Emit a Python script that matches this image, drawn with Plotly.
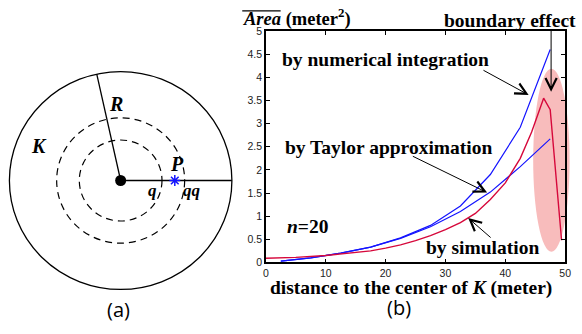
import math
import plotly.graph_objects as go

W, H = 582, 334

# ---------------- data (b) ----------------
numint_x = [2.5, 7.5, 12.5, 17.5, 22.5, 27.5, 32.5, 37.5, 42.5, 47.5]
numint_y = [0.03, 0.10, 0.20, 0.33, 0.53, 0.80, 1.22, 1.90, 2.92, 4.60]

taylor_x = [2.5, 7.5, 12.5, 17.5, 22.5, 27.5, 32.5, 37.5, 42.5, 47.5]
taylor_y = [0.03, 0.10, 0.20, 0.33, 0.52, 0.77, 1.10, 1.52, 2.07, 2.67]

sim_x = [0, 5, 10, 15, 17.5, 20, 22.5, 25, 27.5, 30, 32.5, 35, 37.5, 40, 42.5, 44.4, 46.4, 47.5, 49.4]
sim_y = [0.09, 0.11, 0.15, 0.21, 0.25, 0.31, 0.38, 0.47, 0.58, 0.71, 0.86, 1.06, 1.36, 1.72, 2.25, 2.82, 3.55, 3.30, 0.48]

x_ticks = [0, 10, 20, 30, 40, 50]
y_ticks = [0, 0.5, 1, 1.5, 2, 2.5, 3, 3.5, 4, 4.5, 5]
y_tick_labels = ["0", "0.5", "1", "1.5", "2", "2.5", "3", "3.5", "4", "4.5", "5"]

# ---------------- data (a) schematic (pixel units) ----------------
center = (119.5, 181.0)
R_big = 113.0
dashed_radii = [42.0, 65.0]
P_dist = 55.0
R_angle_deg = 102.4

def px(x):
    return x / W

def py(y):
    return 1 - y / H

SERIF = "Liberation Serif"
SANS = "Liberation Sans"
BLUE = "#1414ff"
RED = "#d6083b"

fig = go.Figure()

# main curves
fig.add_trace(go.Scatter(x=numint_x, y=numint_y, mode="lines",
                         line=dict(color=BLUE, width=1.2), xaxis="x", yaxis="y"))
fig.add_trace(go.Scatter(x=taylor_x, y=taylor_y, mode="lines",
                         line=dict(color=BLUE, width=1.2), xaxis="x", yaxis="y"))
fig.add_trace(go.Scatter(x=sim_x, y=sim_y, mode="lines",
                         line=dict(color=RED, width=1.4), xaxis="x", yaxis="y"))

# schematic traces
cx, cy = center
ang = math.radians(R_angle_deg)
fig.add_trace(go.Scatter(x=[cx, cx + R_big * math.cos(ang)], y=[cy, cy - R_big * math.sin(ang)],
                         mode="lines", line=dict(color="black", width=1.3), xaxis="x2", yaxis="y2"))
fig.add_trace(go.Scatter(x=[cx, cx + R_big], y=[cy, cy], mode="lines",
                         line=dict(color="black", width=1.3), xaxis="x2", yaxis="y2"))
fig.add_trace(go.Scatter(x=[cx], y=[cy], mode="markers",
                         marker=dict(color="black", size=11), xaxis="x2", yaxis="y2"))
fig.add_trace(go.Scatter(x=[cx + P_dist], y=[cy], mode="markers",
                         marker=dict(symbol="asterisk-open", size=9, color=BLUE,
                                     line=dict(color=BLUE, width=1.5)),
                         xaxis="x2", yaxis="y2"))

shapes = []
# pink ellipse (boundary effect)
shapes.append(dict(type="circle", xref="paper", yref="paper",
                   x0=px(538.5), x1=px(575.5), y0=py(255), y1=py(65),
                   fillcolor="rgba(246,165,165,0.75)", line=dict(width=0), layer="below"))
# overline on Area
shapes.append(dict(type="line", xref="paper", yref="paper",
                   x0=px(243), x1=px(282), y0=py(5), y1=py(5),
                   line=dict(color="black", width=1.2)))
# schematic circles
shapes.append(dict(type="circle", xref="x2", yref="y2",
                   x0=cx - R_big, x1=cx + R_big, y0=cy - R_big, y1=cy + R_big,
                   line=dict(color="black", width=1.3)))
for r in dashed_radii:
    shapes.append(dict(type="circle", xref="x2", yref="y2",
                       x0=cx - r, x1=cx + r, y0=cy - r, y1=cy + r,
                       line=dict(color="black", width=1.2, dash="7px,5px")))

ann = []
def txt(text, x, y, size=19.5, family=SERIF, xanchor="center", color="black"):
    ann.append(dict(text=text, x=px(x), y=py(y), xref="paper", yref="paper",
                    showarrow=False, xanchor=xanchor, yanchor="middle",
                    font=dict(family=family, size=size, color=color)))

txt("<b><i>Area</i> (meter<sup>2</sup>)</b>", 242, 12, xanchor="left", size=18.5)
txt("<b>boundary effect</b>", 515, 15)
txt("<b>by numerical integration</b>", 389, 55)
txt("<b>by Taylor approximation</b>", 392, 147)
txt("<b>by simulation</b>", 487, 251)
txt("<b><i>n</i>=20</b>", 309, 229)
txt("<b>distance to the center of <i>K</i> (meter)</b>", 414, 292, size=19.5)
txt("(b)", 402, 313, size=20, family="Open Sans")
txt("(a)", 117, 315, size=20, family="Open Sans")

# schematic labels
txt("<b><i>R</i></b>", 115, 102, size=20)
txt("<b><i>K</i></b>", 37, 145, size=20)
txt("<b><i>P</i></b>", 177, 164, size=20)
txt("<b><i>q</i></b>", 152, 191, size=17)
txt("<b><i>qq</i></b>", 192, 191, size=17)

def arrow(hx, hy, tx, ty):
    ann.append(dict(x=hx, y=hy, ax=tx, ay=ty, xref="x", yref="y", axref="x", ayref="y",
                    text="", showarrow=True, arrowhead=5, arrowsize=2.2, arrowwidth=1,
                    arrowcolor="black"))

arrow(47.65, 3.69, 47.65, 5.04)
arrow(43.9, 3.62, 36.1, 4.17)
arrow(36.96, 1.51, 24.3, 2.31)
arrow(33.8, 0.96, 37.8, 0.51)

axis_common = dict(showline=True, linecolor="black", linewidth=1.5, mirror="ticks",
                   ticks="inside", ticklen=4, tickwidth=1, tickcolor="black",
                   showgrid=False, zeroline=False,
                   tickfont=dict(family=SANS, size=10.5, color="#222"))

fig.update_layout(
    width=W, height=H,
    margin=dict(l=0, r=0, t=0, b=0),
    paper_bgcolor="white", plot_bgcolor="rgba(0,0,0,0)",
    showlegend=False,
    xaxis=dict(domain=[px(267), px(571)], range=[0, 50], tickvals=x_ticks, anchor="y",
               ticklabelstandoff=0, **axis_common),
    yaxis=dict(domain=[py(266), py(26)], range=[0, 5], tickvals=y_ticks, ticktext=y_tick_labels,
               anchor="x", ticklabelstandoff=0, **axis_common),
    xaxis2=dict(domain=[0, px(240)], range=[0, 240], visible=False, anchor="y2"),
    yaxis2=dict(domain=[0, 1], range=[334, 0], visible=False, anchor="x2"),
    shapes=shapes,
    annotations=ann,
)

fig.write_html("out.html")
